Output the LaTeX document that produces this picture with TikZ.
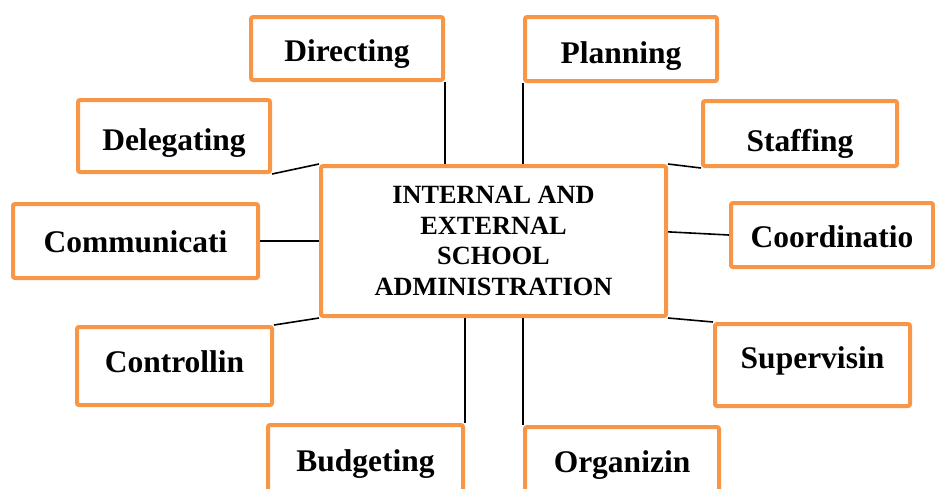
\documentclass[tikz,border=0pt]{standalone}
\usepackage{fontspec}
\setmainfont{Liberation Serif}
\usepackage{tikz}
\usetikzlibrary{positioning}
\definecolor{boxorange}{HTML}{F79646}
\def\TaskFont{\fontsize{31.5}{36}\selectfont\bfseries}
\def\AdminFont{\fontsize{26.3}{30.5}\selectfont\bfseries}

\begin{document}
\begin{tikzpicture} [
    x=1pt, y=-1pt,
    B/.style = {draw=boxorange, line width=4pt, rounded corners=2pt, fill=white, inner sep=0pt, text depth=0pt, font=\TaskFont},
    every edge/.style={draw, line width=1.6pt}
    ]
  \useasboundingbox (0,0) rectangle (935,488);
  \clip (0,0) rectangle (935,488);

  %%% ADMINISTRATION (CENTRE) %%%
  \node[B, text depth=, minimum width=345pt, minimum height=150pt, align=center, font=\AdminFont] (admin) at (493.5,241)
    {INTERNAL AND\\EXTERNAL\\SCHOOL\\ADMINISTRATION};

  %%% TOP %%%
  \node[B, text height=25pt, minimum width=192pt, minimum height=63pt] (directing)  at (347,48.5)  {Directing};
  \node[B, text height=28pt, minimum width=192pt, minimum height=64pt] (planning)   at (621,49)    {Planning};

  %%% LEFT %%%
  \node[B, text height=28pt, minimum width=192pt, minimum height=72pt] (delegating)    at (174,136)   {Delegating};
  \node[B, text height=22pt, minimum width=245pt, minimum height=74pt] (communicating) at (135.5,241) {Communicati};
  \node[B, text height=12pt, minimum width=195pt, minimum height=78pt] (controlling)   at (174.5,366) {Controllin};

  %%% RIGHT %%%
  \node[B, text height=35pt, minimum width=194pt, minimum height=65pt] (staffing)     at (800,133.5) {Staffing};
  \node[B, text height=25pt, minimum width=202pt, minimum height=64pt] (coordination) at (832,235)   {Coordinatio};
  \node[B, text height=6pt,  minimum width=195pt, minimum height=82pt] (supervising)  at (812.5,365) {Supervisin};

  %%% BOTTOM %%%
  \node[B, text height=13pt, minimum width=195pt, minimum height=80pt] (budgeting)  at (365.5,465) {Budgeting};
  \node[B, text height=10pt, minimum width=194pt, minimum height=80pt] (organizing) at (622,467)   {Organizin};

  % Edges
  \path (directing.south east) edge (directing.south east |- admin.north);
  \path (planning.south west) edge (planning.south west |- admin.north);

  \path (delegating.south east) edge (admin.north west);
  \path (communicating.east) edge (communicating.east -| admin.west);
  \path (controlling.north east) edge (admin.south west);

  \path (admin.north east) edge (staffing.south west);
  \path (admin.3) edge (coordination.west);
  \path (admin.south east) edge (supervising.north west);

  \path (budgeting.north east) edge (budgeting.north east |- admin.south);
  \path (organizing.north west) edge (organizing.north west |- admin.south);

  \end{tikzpicture}
\end{document}
